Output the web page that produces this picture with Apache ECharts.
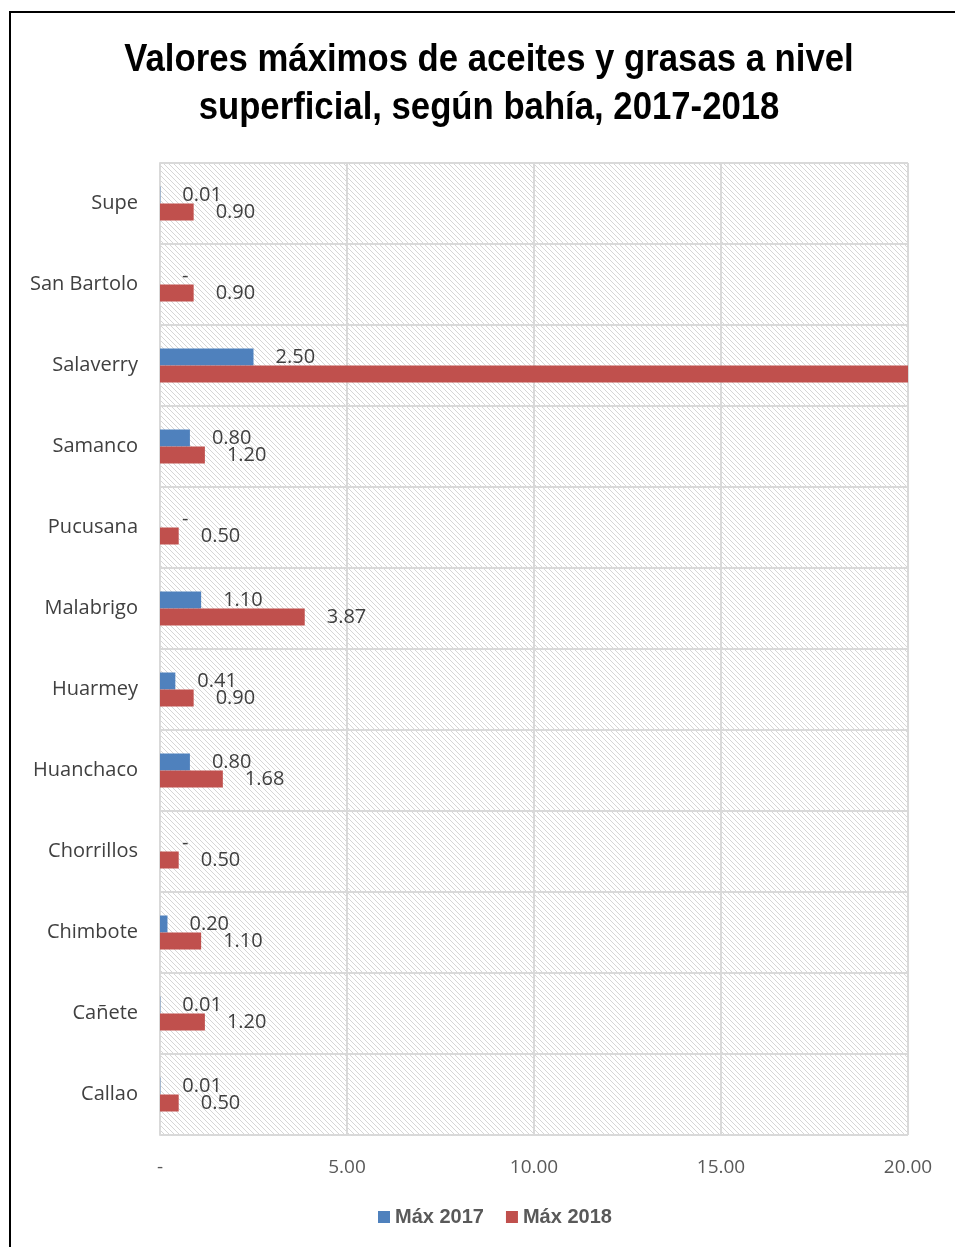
<!DOCTYPE html>
<html>
<head>
<meta charset="utf-8">
<script src="https://cdn.jsdelivr.net/npm/echarts@6/dist/echarts.min.js"></script>
<style>
  html, body { margin: 0; padding: 0; background: #fff; }
  #main { width: 955px; height: 1247px; }
</style>
</head>
<body>
<div id="main"></div>
<script>
// bahías, de abajo hacia arriba (orden del eje en Excel)
const bahias = ["Callao", "Cañete", "Chimbote", "Chorrillos", "Huanchaco", "Huarmey",
  "Malabrigo", "Pucusana", "Samanco", "Salaverry", "San Bartolo", "Supe"];
const max2017 = [0.01, 0.01, 0.20, 0, 0.80, 0.41, 1.10, 0, 0.80, 2.50, 0, 0.01];
// Salaverry 2018 sale del eje (recortada en 20), sin etiqueta visible
const max2018 = [0.50, 1.20, 1.10, 0.50, 1.68, 0.90, 3.87, 0.50, 1.20, 25.00, 0.90, 0.90];
const xTicks = [0, 5, 10, 15, 20];
const titulo = "Valores máximos de aceites y grasas a nivel\nsuperficial, según bahía, 2017-2018";

const fmt = (v) => (v === 0 ? "-" : v.toFixed(2));

// fondo rayado del área de trazado
function hatch() {
  const c = document.createElement("canvas");
  c.width = 5;
  c.height = 5;
  const ctx = c.getContext("2d");
  ctx.fillStyle = "#ffffff";
  ctx.fillRect(0, 0, 5, 5);
  ctx.fillStyle = "#d6d6d6";
  for (let i = 0; i < 5; i++) ctx.fillRect(i, i, 1, 1);
  return c;
}

const chart = echarts.init(document.getElementById("main"));
const labelFont = "'Open Sans', 'Noto Sans', sans-serif";
const boldFont = "'Liberation Sans', Arial, sans-serif";

const labelStyle = {
  show: true,
  position: "right",
  distance: 22,
  fontFamily: labelFont,
  fontSize: 20,
  color: "#404040",
  formatter: (p) => fmt(p.value),
};

const option = {
  animation: false,
  backgroundColor: "#fff",
  graphic: [
    {
      type: "rect",
      shape: { x: 10, y: 12, width: 1000, height: 1300 },
      style: { fill: null, stroke: "#000", lineWidth: 2 },
      silent: true,
    },
    {
      // título con letra estrecha (Arial Narrow simulada)
      type: "text",
      x: 489,
      y: 36,
      scaleX: 0.89,
      silent: true,
      style: {
        text: titulo,
        font: "bold 39px " + boldFont,
        lineHeight: 48,
        fill: "#000",
        align: "center",
        verticalAlign: "top",
      },
    },
  ],
  legend: {
    bottom: 15,
    left: 373,
    itemWidth: 12,
    itemHeight: 12,
    itemGap: 22,
    icon: "rect",
    textStyle: {
      fontFamily: boldFont,
      fontWeight: "bold",
      fontSize: 20,
      color: "#595959",
    },
    data: ["Máx 2017", "Máx 2018"],
  },
  grid: {
    left: 160,
    right: 47,
    top: 163,
    bottom: 112,
    show: true,
    borderWidth: 0,
    backgroundColor: { image: hatch(), repeat: "repeat" },
  },
  xAxis: {
    type: "value",
    min: 0,
    max: 20,
    interval: 5,
    axisLine: { show: false },
    axisTick: { show: false },
    splitLine: { show: true, lineStyle: { color: "#d9d9d9", width: 2 } },
    axisLabel: {
      margin: 23,
      fontFamily: labelFont,
      fontSize: 19,
      color: "#595959",
      formatter: (v) => (xTicks.includes(v) ? fmt(v) : ""),
    },
  },
  yAxis: {
    type: "category",
    data: bahias,
    axisLine: { show: true, lineStyle: { color: "#d9d9d9", width: 2 } },
    axisTick: { show: false },
    splitLine: { show: true, lineStyle: { color: "#d9d9d9", width: 2 } },
    axisLabel: {
      margin: 22,
      fontFamily: labelFont,
      fontSize: 20,
      color: "#404040",
    },
  },
  series: [
    {
      name: "Máx 2017",
      type: "bar",
      data: max2017,
      barWidth: 17,
      barGap: "0%",
      itemStyle: { color: "#4f81bd" },
      label: labelStyle,
    },
    {
      name: "Máx 2018",
      type: "bar",
      data: max2018.map((v) => (v > 20 ? { value: v, label: { show: false } } : v)),
      barWidth: 17,
      itemStyle: { color: "#c0504d" },
      label: labelStyle,
    },
  ],
};

chart.setOption(option);
</script>
</body>
</html>
